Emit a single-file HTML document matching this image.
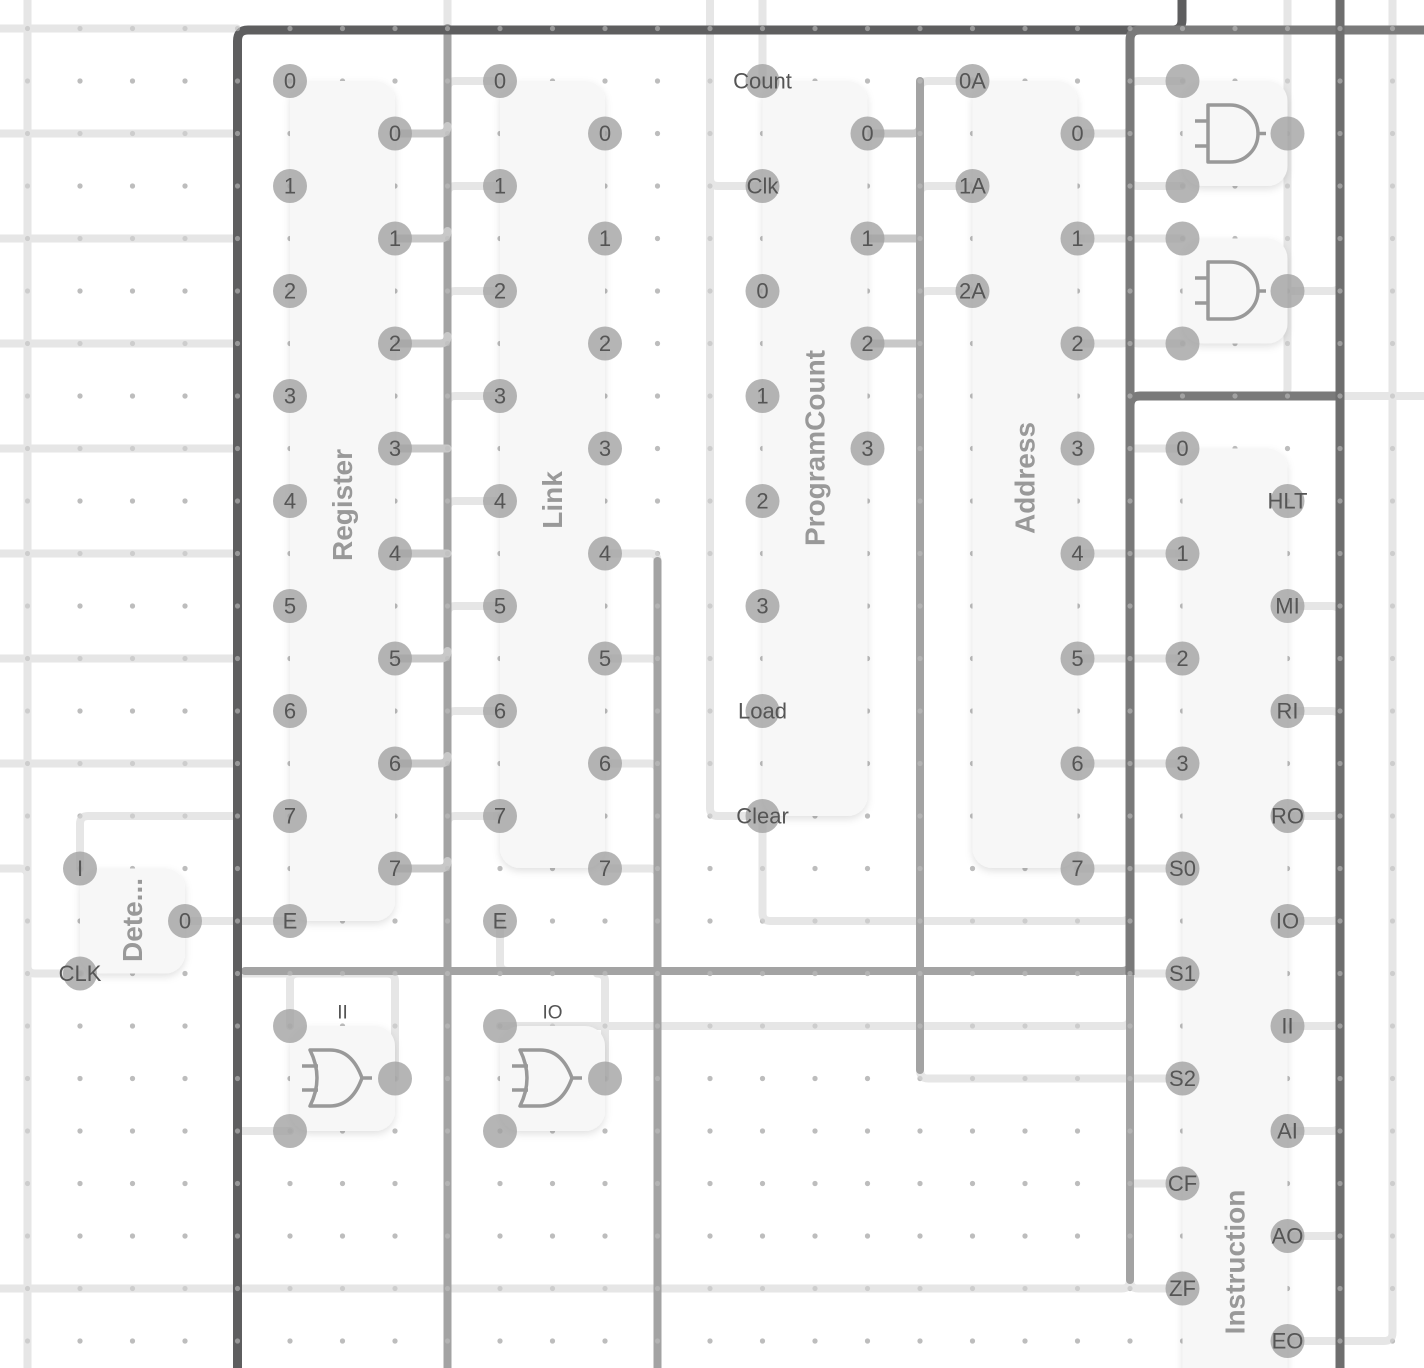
<!DOCTYPE html>
<html><head><meta charset="utf-8"><style>
html,body{margin:0;padding:0;background:#fff;}
svg{display:block;}
.p{fill:rgba(160,160,160,0.78);}
.t{font-family:"Liberation Sans",sans-serif;font-size:22px;fill:#555;text-anchor:middle;dominant-baseline:central;}
.lb{font-family:"Liberation Sans",sans-serif;font-size:28px;font-weight:bold;fill:#999;text-anchor:middle;dominant-baseline:central;}
.c{fill:#f7f7f7;filter:url(#sh);}
.L{fill:none;stroke:#e6e6e6;stroke-width:8;stroke-linejoin:round;stroke-linecap:round;}
.M{fill:none;stroke:#c8c8c8;stroke-width:8;stroke-linejoin:round;stroke-linecap:round;}
.D{fill:none;stroke:#a3a3a3;stroke-width:8;stroke-linejoin:round;stroke-linecap:round;}
.K{fill:none;stroke:#5e5e5f;stroke-width:9;stroke-linejoin:round;}
.g{fill:none;stroke:#999;stroke-width:3.5;stroke-linejoin:round;}
</style></head><body>
<svg width="1424" height="1368" viewBox="0 0 1424 1368" xmlns="http://www.w3.org/2000/svg">
<defs>
<pattern id="dots" x="27.5" y="28.5" width="52.5" height="52.5" patternUnits="userSpaceOnUse">
<circle cx="0" cy="0" r="2.6" fill="#bdbdbd"/><circle cx="52.5" cy="0" r="2.6" fill="#bdbdbd"/><circle cx="0" cy="52.5" r="2.6" fill="#bdbdbd"/><circle cx="52.5" cy="52.5" r="2.6" fill="#bdbdbd"/>
</pattern>
<filter id="sh" x="-20%" y="-20%" width="140%" height="140%"><feDropShadow dx="0" dy="3" stdDeviation="4" flood-color="#000" flood-opacity="0.12"/></filter>
</defs>
<rect width="1424" height="1368" fill="#fff"/>
<rect width="1424" height="1368" fill="url(#dots)"/>

<path class="L" d="M27.5,0 V1368"/>
<path class="L" d="M0,28.5 H237"/>
<path class="L" d="M0,133.5 H237 M0,238.5 H237 M0,343.5 H237 M0,448.5 H237 M0,553.5 H237 M0,658.5 H237 M0,763.5 H237"/>
<path class="L" d="M0,868.5 H20 Q27.5,868.5 27.5,876 V966 Q27.5,973.5 35,973.5 H80"/>
<path class="L" d="M80,868.5 V824 Q80,816 88,816 H237"/>
<path class="L" d="M185,921 H290"/>
<path class="L" d="M237,1131 H290"/>
<path class="L" d="M0,1288.5 H1122 Q1130,1288.5 1130,1280"/>
<path class="L" d="M1130,1280 Q1130,1288.5 1138,1288.5 H1182"/>
<path class="L" d="M447.5,0 V28"/>
<path class="L" d="M762.5,0 V81"/>
<path class="L" d="M710,0 V808 Q710,816 718,816 H762.5"/>
<path class="L" d="M710,178 Q710,186 718,186 H762.5"/>
<path class="L" d="M762.5,816 V913 Q762.5,921 770,921 H1122 Q1130,921 1130,913"/>
<path class="L" d="M500,921 V963 Q500,971 508,971 H660"/>
<path class="L" d="M237,973.5 H290"/>
<path class="L" d="M290,1026 V981 Q290,973.5 298,973.5 H387 Q395,973.5 395,981 V1078"/>
<path class="L" d="M605,1078 V981 Q605,973.5 597,973.5"/>
<path class="L" d="M500,1026 H1122 Q1130,1026 1130,1018"/>
<path class="L" d="M920,1070 Q920,1078.5 928,1078.5 H1182"/>
<path class="L" d="M1392.5,0 V1333 Q1392.5,1341 1384,1341 H1287.5"/>
<path class="L" d="M1287.5,0 V388 Q1287.5,396 1280,396"/>
<path class="L" d="M1340,396 H1424"/>
<path class="L" d="M447.5,89 Q447.5,81 455,81 H500 M447.5,194 Q447.5,186 455,186 H500 M447.5,299 Q447.5,291 455,291 H500 M447.5,404 Q447.5,396 455,396 H500 M447.5,509 Q447.5,501 455,501 H500 M447.5,614 Q447.5,606 455,606 H500 M447.5,719 Q447.5,711 455,711 H500 M447.5,824 Q447.5,816 455,816 H500"/>
<path class="L" d="M605,553.5 H650 Q657.5,553.5 657.5,561 M605,658.5 H650 Q657.5,658.5 657.5,666 M605,763.5 H650 Q657.5,763.5 657.5,771 M605,868.5 H650 Q657.5,868.5 657.5,876"/>
<path class="L" d="M920,89 Q920,81 928,81 H972 M920,194 Q920,186 928,186 H972 M920,299 Q920,291 928,291 H972"/>
<path class="L" d="M1077.5,133.5 H1122 Q1130,133.5 1130,126 M1077.5,238.5 H1130 M1077.5,343.5 H1122 Q1130,343.5 1130,336 M1077.5,553.5 H1130 M1077.5,658.5 H1130 M1077.5,763.5 H1130 M1077.5,868.5 H1130"/>
<path class="L" d="M1130,89 Q1130,81 1138,81 H1182 M1130,178 Q1130,186 1138,186 H1182 M1130,238.5 H1182 M1130,336 Q1130,343.5 1138,343.5 H1182"/>
<path class="L" d="M1287.5,291 H1332 Q1340,291 1340,283"/>
<path class="L" d="M1130,448.5 H1182 M1130,553.5 H1182 M1130,658.5 H1182 M1130,763.5 H1182 M1130,868.5 H1182 M1130,973.5 H1182 M1130,1183.5 H1182"/>
<path class="L" d="M1287.5,606 H1332 Q1340,606 1340,614 M1287.5,711 H1332 Q1340,711 1340,719 M1287.5,816 H1332 Q1340,816 1340,808 M1287.5,921 H1332 Q1340,921 1340,913 M1287.5,1026 H1332 Q1340,1026 1340,1018 M1287.5,1131 H1332 Q1340,1131 1340,1123 M1287.5,1236 H1332 Q1340,1236 1340,1228"/>

<path class="M" d="M867.5,133.5 H912 Q920,133.5 920,126 M867.5,238.5 H920 M867.5,343.5 H920"/>
<path class="D" d="M920,81 V1070"/>
<path class="D" d="M447.5,28 V1368"/>
<path class="M" d="M395,133.5 H440 Q447.5,133.5 447.5,126 M395,238.5 H440 Q447.5,238.5 447.5,231 M395,343.5 H440 Q447.5,343.5 447.5,336 M395,448.5 H447.5 M395,553.5 H447.5 M395,658.5 H440 Q447.5,658.5 447.5,651 M395,763.5 H440 Q447.5,763.5 447.5,756 M395,868.5 H440 Q447.5,868.5 447.5,861"/>
<path class="D" d="M657.5,561 V1368"/>
<path class="D" d="M245,971 H1122 Q1130,971 1130,963"/>
<path class="D" d="M1130,975 V1280"/>

<path class="K" d="M1182,0 V20 Q1182,30 1172,30 H248 Q237.5,30 237.5,41 V1368"/>
<path class="K" style="stroke:#7a7a7a" d="M1424,30 H1140 Q1130,30 1130,40 V975"/>
<path class="K" style="stroke:#7a7a7a" d="M1130,975 V406 Q1130,396 1140,396 H1340"/>
<path class="K" style="stroke:#6e6e6e" d="M1340,0 V1368"/>

<rect width="1424" height="1368" fill="url(#dots)" opacity="0.6"/>

<rect class="c" x="290" y="81" width="105" height="840" rx="20"/>
<rect class="c" x="500" y="81" width="105" height="787" rx="20"/>
<rect class="c" x="762.5" y="81" width="105" height="735" rx="20"/>
<rect class="c" x="972.5" y="81" width="105" height="787" rx="20"/>
<rect class="c" x="1182.5" y="81" width="105" height="105" rx="20"/>
<rect class="c" x="1182.5" y="238.5" width="105" height="105" rx="20"/>
<rect class="c" x="1182.5" y="448.5" width="105" height="960" rx="20"/>
<rect class="c" x="80" y="868.5" width="105" height="105" rx="20"/>
<rect class="c" x="290" y="1026" width="105" height="105" rx="20"/>
<rect class="c" x="500" y="1026" width="105" height="105" rx="20"/>

<text class="lb" transform="translate(342.5,505) rotate(-90)">Register</text>
<text class="lb" transform="translate(552.5,500) rotate(-90)">Link</text>
<text class="lb" transform="translate(815,448) rotate(-90)">ProgramCount</text>
<text class="lb" transform="translate(1025,478) rotate(-90)">Address</text>
<text class="lb" transform="translate(1235,1262) rotate(-90)">Instruction</text>
<text class="lb" transform="translate(132.5,920) rotate(-90)">Dete...</text>
<text class="t" x="342.5" y="1013" style="font-size:19px">II</text>
<text class="t" x="552.5" y="1013" style="font-size:19px">IO</text>

<g class="g">
<path d="M1208,105 H1230 A28,28.5 0 0 1 1230,162 H1208 Z M1195,121 H1208 M1195,146 H1208 M1258,133.5 H1266"/>
<path d="M1208,262 H1230 A28,28.5 0 0 1 1230,319 H1208 Z M1195,278 H1208 M1195,303 H1208 M1258,291 H1266"/>
<path d="M310,1050 Q324,1078 310,1106 H330 Q352,1106 362,1078 Q352,1050 330,1050 Z M302,1066 H318 M302,1090 H318 M362,1078 H372"/>
<path d="M520,1050 Q534,1078 520,1106 H540 Q562,1106 572,1078 Q562,1050 540,1050 Z M512,1066 H528 M512,1090 H528 M572,1078 H582"/>
</g>

<g>
<circle class="p" cx="290" cy="81" r="17"/><text class="t" x="290" y="81">0</text>
<circle class="p" cx="290" cy="186" r="17"/><text class="t" x="290" y="186">1</text>
<circle class="p" cx="290" cy="291" r="17"/><text class="t" x="290" y="291">2</text>
<circle class="p" cx="290" cy="396" r="17"/><text class="t" x="290" y="396">3</text>
<circle class="p" cx="290" cy="501" r="17"/><text class="t" x="290" y="501">4</text>
<circle class="p" cx="290" cy="606" r="17"/><text class="t" x="290" y="606">5</text>
<circle class="p" cx="290" cy="711" r="17"/><text class="t" x="290" y="711">6</text>
<circle class="p" cx="290" cy="816" r="17"/><text class="t" x="290" y="816">7</text>
<circle class="p" cx="290" cy="921" r="17"/><text class="t" x="290" y="921">E</text>
<circle class="p" cx="395" cy="133.5" r="17"/><text class="t" x="395" y="133.5">0</text>
<circle class="p" cx="395" cy="238.5" r="17"/><text class="t" x="395" y="238.5">1</text>
<circle class="p" cx="395" cy="343.5" r="17"/><text class="t" x="395" y="343.5">2</text>
<circle class="p" cx="395" cy="448.5" r="17"/><text class="t" x="395" y="448.5">3</text>
<circle class="p" cx="395" cy="553.5" r="17"/><text class="t" x="395" y="553.5">4</text>
<circle class="p" cx="395" cy="658.5" r="17"/><text class="t" x="395" y="658.5">5</text>
<circle class="p" cx="395" cy="763.5" r="17"/><text class="t" x="395" y="763.5">6</text>
<circle class="p" cx="395" cy="868.5" r="17"/><text class="t" x="395" y="868.5">7</text>

<circle class="p" cx="500" cy="81" r="17"/><text class="t" x="500" y="81">0</text>
<circle class="p" cx="500" cy="186" r="17"/><text class="t" x="500" y="186">1</text>
<circle class="p" cx="500" cy="291" r="17"/><text class="t" x="500" y="291">2</text>
<circle class="p" cx="500" cy="396" r="17"/><text class="t" x="500" y="396">3</text>
<circle class="p" cx="500" cy="501" r="17"/><text class="t" x="500" y="501">4</text>
<circle class="p" cx="500" cy="606" r="17"/><text class="t" x="500" y="606">5</text>
<circle class="p" cx="500" cy="711" r="17"/><text class="t" x="500" y="711">6</text>
<circle class="p" cx="500" cy="816" r="17"/><text class="t" x="500" y="816">7</text>
<circle class="p" cx="500" cy="921" r="17"/><text class="t" x="500" y="921">E</text>
<circle class="p" cx="605" cy="133.5" r="17"/><text class="t" x="605" y="133.5">0</text>
<circle class="p" cx="605" cy="238.5" r="17"/><text class="t" x="605" y="238.5">1</text>
<circle class="p" cx="605" cy="343.5" r="17"/><text class="t" x="605" y="343.5">2</text>
<circle class="p" cx="605" cy="448.5" r="17"/><text class="t" x="605" y="448.5">3</text>
<circle class="p" cx="605" cy="553.5" r="17"/><text class="t" x="605" y="553.5">4</text>
<circle class="p" cx="605" cy="658.5" r="17"/><text class="t" x="605" y="658.5">5</text>
<circle class="p" cx="605" cy="763.5" r="17"/><text class="t" x="605" y="763.5">6</text>
<circle class="p" cx="605" cy="868.5" r="17"/><text class="t" x="605" y="868.5">7</text>

<circle class="p" cx="762.5" cy="81" r="17"/><text class="t" x="762.5" y="81">Count</text>
<circle class="p" cx="762.5" cy="186" r="17"/><text class="t" x="762.5" y="186">Clk</text>
<circle class="p" cx="762.5" cy="291" r="17"/><text class="t" x="762.5" y="291">0</text>
<circle class="p" cx="762.5" cy="396" r="17"/><text class="t" x="762.5" y="396">1</text>
<circle class="p" cx="762.5" cy="501" r="17"/><text class="t" x="762.5" y="501">2</text>
<circle class="p" cx="762.5" cy="606" r="17"/><text class="t" x="762.5" y="606">3</text>
<circle class="p" cx="762.5" cy="711" r="17"/><text class="t" x="762.5" y="711">Load</text>
<circle class="p" cx="762.5" cy="816" r="17"/><text class="t" x="762.5" y="816">Clear</text>
<circle class="p" cx="867.5" cy="133.5" r="17"/><text class="t" x="867.5" y="133.5">0</text>
<circle class="p" cx="867.5" cy="238.5" r="17"/><text class="t" x="867.5" y="238.5">1</text>
<circle class="p" cx="867.5" cy="343.5" r="17"/><text class="t" x="867.5" y="343.5">2</text>
<circle class="p" cx="867.5" cy="448.5" r="17"/><text class="t" x="867.5" y="448.5">3</text>

<circle class="p" cx="972.5" cy="81" r="17"/><text class="t" x="972.5" y="81">0A</text>
<circle class="p" cx="972.5" cy="186" r="17"/><text class="t" x="972.5" y="186">1A</text>
<circle class="p" cx="972.5" cy="291" r="17"/><text class="t" x="972.5" y="291">2A</text>
<circle class="p" cx="1077.5" cy="133.5" r="17"/><text class="t" x="1077.5" y="133.5">0</text>
<circle class="p" cx="1077.5" cy="238.5" r="17"/><text class="t" x="1077.5" y="238.5">1</text>
<circle class="p" cx="1077.5" cy="343.5" r="17"/><text class="t" x="1077.5" y="343.5">2</text>
<circle class="p" cx="1077.5" cy="448.5" r="17"/><text class="t" x="1077.5" y="448.5">3</text>
<circle class="p" cx="1077.5" cy="553.5" r="17"/><text class="t" x="1077.5" y="553.5">4</text>
<circle class="p" cx="1077.5" cy="658.5" r="17"/><text class="t" x="1077.5" y="658.5">5</text>
<circle class="p" cx="1077.5" cy="763.5" r="17"/><text class="t" x="1077.5" y="763.5">6</text>
<circle class="p" cx="1077.5" cy="868.5" r="17"/><text class="t" x="1077.5" y="868.5">7</text>

<circle class="p" cx="1182.5" cy="81" r="17"/>
<circle class="p" cx="1182.5" cy="186" r="17"/>
<circle class="p" cx="1287.5" cy="133.5" r="17"/>
<circle class="p" cx="1182.5" cy="238.5" r="17"/>
<circle class="p" cx="1182.5" cy="343.5" r="17"/>
<circle class="p" cx="1287.5" cy="291" r="17"/>

<circle class="p" cx="1182.5" cy="448.5" r="17"/><text class="t" x="1182.5" y="448.5">0</text>
<circle class="p" cx="1182.5" cy="553.5" r="17"/><text class="t" x="1182.5" y="553.5">1</text>
<circle class="p" cx="1182.5" cy="658.5" r="17"/><text class="t" x="1182.5" y="658.5">2</text>
<circle class="p" cx="1182.5" cy="763.5" r="17"/><text class="t" x="1182.5" y="763.5">3</text>
<circle class="p" cx="1182.5" cy="868.5" r="17"/><text class="t" x="1182.5" y="868.5">S0</text>
<circle class="p" cx="1182.5" cy="973.5" r="17"/><text class="t" x="1182.5" y="973.5">S1</text>
<circle class="p" cx="1182.5" cy="1078.5" r="17"/><text class="t" x="1182.5" y="1078.5">S2</text>
<circle class="p" cx="1182.5" cy="1183.5" r="17"/><text class="t" x="1182.5" y="1183.5">CF</text>
<circle class="p" cx="1182.5" cy="1288.5" r="17"/><text class="t" x="1182.5" y="1288.5">ZF</text>
<circle class="p" cx="1287.5" cy="501" r="17"/><text class="t" x="1287.5" y="501">HLT</text>
<circle class="p" cx="1287.5" cy="606" r="17"/><text class="t" x="1287.5" y="606">MI</text>
<circle class="p" cx="1287.5" cy="711" r="17"/><text class="t" x="1287.5" y="711">RI</text>
<circle class="p" cx="1287.5" cy="816" r="17"/><text class="t" x="1287.5" y="816">RO</text>
<circle class="p" cx="1287.5" cy="921" r="17"/><text class="t" x="1287.5" y="921">IO</text>
<circle class="p" cx="1287.5" cy="1026" r="17"/><text class="t" x="1287.5" y="1026">II</text>
<circle class="p" cx="1287.5" cy="1131" r="17"/><text class="t" x="1287.5" y="1131">AI</text>
<circle class="p" cx="1287.5" cy="1236" r="17"/><text class="t" x="1287.5" y="1236">AO</text>
<circle class="p" cx="1287.5" cy="1341" r="17"/><text class="t" x="1287.5" y="1341">EO</text>

<circle class="p" cx="80" cy="868.5" r="17"/><text class="t" x="80" y="868.5">I</text>
<circle class="p" cx="185" cy="921" r="17"/><text class="t" x="185" y="921">0</text>
<circle class="p" cx="80" cy="973.5" r="17"/><text class="t" x="80" y="973.5">CLK</text>

<circle class="p" cx="290" cy="1026" r="17"/>
<circle class="p" cx="290" cy="1131" r="17"/>
<circle class="p" cx="395" cy="1078.5" r="17"/>
<circle class="p" cx="500" cy="1026" r="17"/>
<circle class="p" cx="500" cy="1131" r="17"/>
<circle class="p" cx="605" cy="1078.5" r="17"/>
</g>
</svg>
</body></html>
